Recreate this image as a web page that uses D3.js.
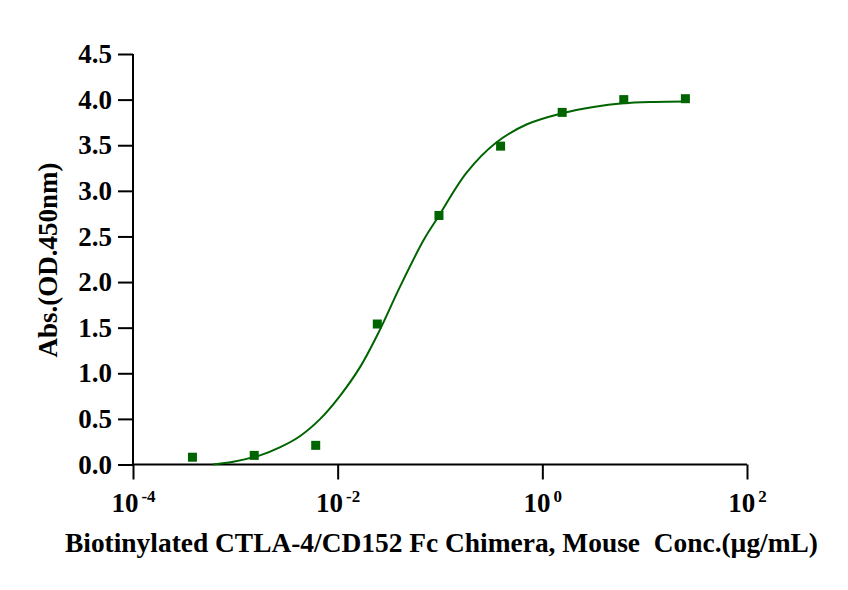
<!DOCTYPE html>
<html>
<head>
<meta charset="utf-8">
<script src="https://cdn.jsdelivr.net/npm/d3@7"></script>
<style>
  body { margin: 0; background: #fff; }
  svg text { font-family: "Liberation Serif", "Times New Roman", serif; font-weight: bold; fill: #000; }
</style>
</head>
<body>
<svg id="chart" width="848" height="590"></svg>
<script>
// measured points (ug/mL vs OD450)
const conc = [0.000381, 0.00153, 0.0061, 0.0244, 0.0977, 0.391, 1.563, 6.25, 25];
const od = [0.08, 0.10, 0.21, 1.54, 2.73, 3.49, 3.86, 4.00, 4.01];

// fitted curve
const curveConc = [0.000603, 0.000955, 0.00174, 0.00275, 0.00427, 0.00676, 0.0105, 0.0166, 0.0257,
                   0.0407, 0.0692, 0.0955, 0.182, 0.355, 0.708, 1.55, 3.16, 6.17, 12.6, 24.5];
const curveOD = [0.00, 0.03, 0.10, 0.19, 0.31, 0.50, 0.75, 1.07, 1.47,
                 1.95, 2.46, 2.71, 3.20, 3.53, 3.73, 3.85, 3.92, 3.96, 3.975, 3.98];

const xTicks = [1e-4, 1e-2, 1e0, 1e2];
const xTickExp = ["-4", "-2", "0", "2"];
const yTicks = [0, 0.5, 1.0, 1.5, 2.0, 2.5, 3.0, 3.5, 4.0, 4.5];

const green = "#006400";
const svg = d3.select("#chart");

const x = d3.scaleLog().domain([1e-4, 1e2]).range([133, 747]);
const y = d3.scaleLinear().domain([0, 4.5]).range([464.5, 54]);

// y axis
const yAxis = svg.append("g")
    .attr("transform", "translate(133,0)")
    .call(d3.axisLeft(y).tickValues(yTicks).tickSize(15).tickPadding(6).tickFormat(d3.format(".1f")));
yAxis.select(".domain").attr("d", "M0," + y(4.5) + "V" + y(0)).attr("stroke-width", 2);
yAxis.selectAll("line").attr("stroke-width", 2);
yAxis.selectAll("text").style("font-size", "27px").attr("font-family", null);

// x axis
const xAxis = svg.append("g")
    .attr("transform", "translate(0," + y(0) + ")")
    .call(d3.axisBottom(x).tickValues(xTicks).tickSize(15).tickFormat(""));
xAxis.select(".domain").attr("d", "M" + x(1e-4) + ",0H" + x(1e2)).attr("stroke-width", 2);
xAxis.selectAll("line").attr("stroke-width", 2);

xAxis.selectAll(".tick text")
    .attr("y", 47)
    .attr("dy", null)
    .style("font-size", "27px")
    .attr("font-family", null)
    .each(function (d, i) {
        const t = d3.select(this);
        t.append("tspan").text("10");
        t.append("tspan").attr("dx", 3).attr("dy", -10).style("font-size", "17px").text(xTickExp[i]);
    });

// curve
const line = d3.line()
    .x((d, i) => x(curveConc[i]))
    .y((d, i) => y(curveOD[i]))
    .curve(d3.curveCatmullRom.alpha(0.5));

svg.append("path")
    .datum(curveConc)
    .attr("d", line)
    .attr("fill", "none")
    .attr("stroke", green)
    .attr("stroke-width", 2);

// points
const size = 9;
svg.append("g").selectAll("rect")
    .data(conc)
    .enter()
    .append("rect")
    .attr("x", d => x(d) - size / 2)
    .attr("y", (d, i) => y(od[i]) - size / 2)
    .attr("width", size)
    .attr("height", size)
    .attr("fill", green);

// titles
svg.append("text")
    .attr("transform", "translate(57,260) rotate(-90)")
    .attr("text-anchor", "middle")
    .style("font-size", "27px")
    .text("Abs.(OD.450nm)");

svg.append("text")
    .attr("x", 441.5)
    .attr("y", 552)
    .attr("text-anchor", "middle")
    .attr("textLength", 753)
    .attr("lengthAdjust", "spacingAndGlyphs")
    .style("font-size", "27px")
    .style("white-space", "pre")
    .text("Biotinylated CTLA-4/CD152 Fc Chimera, Mouse  Conc.(\u00b5g/mL)");
</script>
</body>
</html>
